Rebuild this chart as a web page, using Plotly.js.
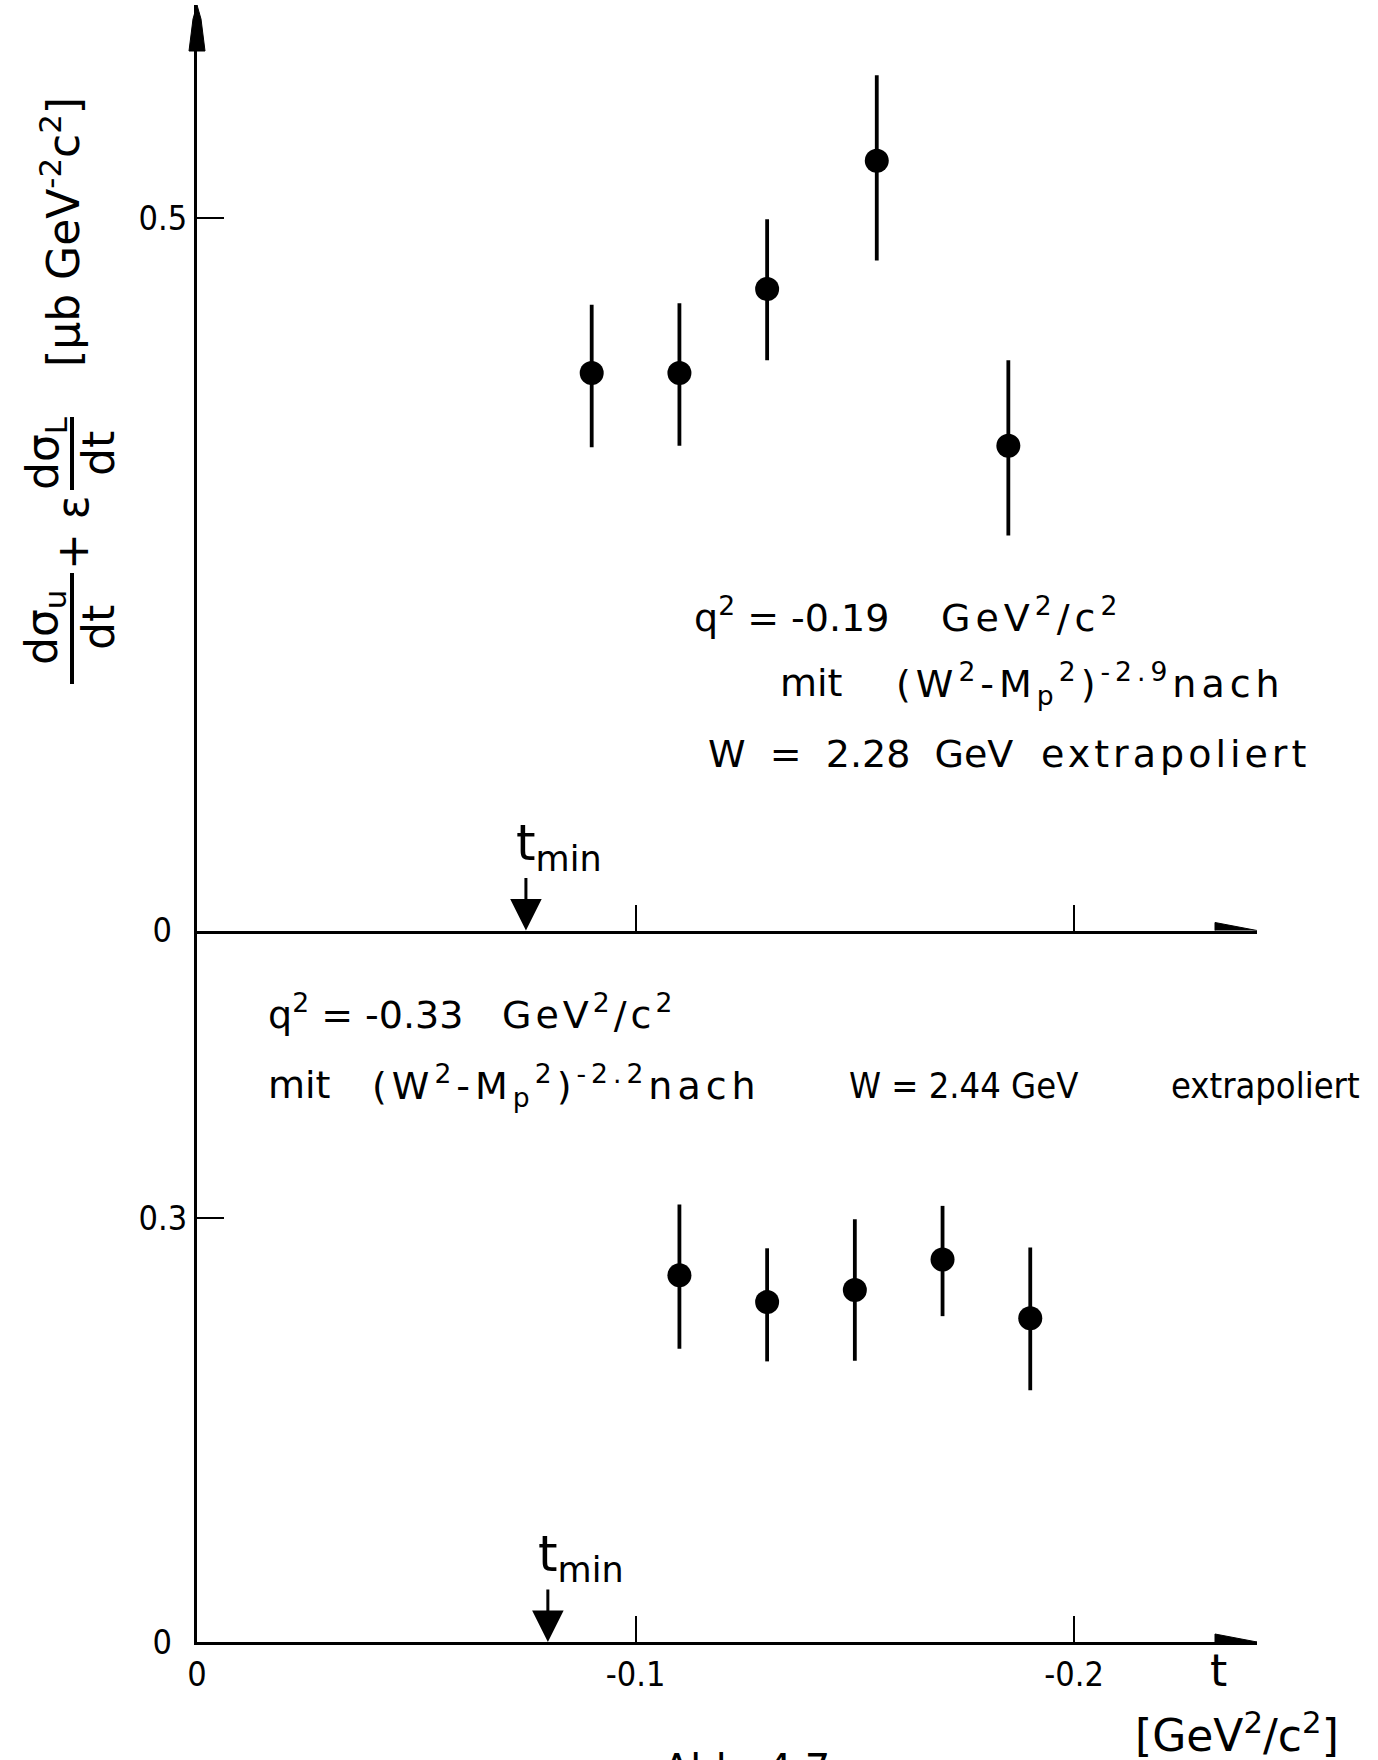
<!DOCTYPE html>
<html>
<head>
<meta charset="utf-8">
<script src="https://cdn.plot.ly/plotly-3.0.1.min.js"></script>
<style>html,body{margin:0;padding:0;background:#fff;}#chart{width:1378px;height:1760px;}</style>
</head>
<body>
<div id="chart"></div>
<script>
// ---------------- data ----------------
// upper panel: q^2 = -0.19 GeV^2/c^2
const tUpper       = [-0.09, -0.11, -0.13, -0.155, -0.185];
const sigmaUpper   = [0.391, 0.391, 0.450, 0.540, 0.340];
const errUpperPlus = [0.048, 0.049, 0.049, 0.060, 0.060];
const errUpperMinus= [0.052, 0.051, 0.050, 0.070, 0.063];
// lower panel: q^2 = -0.33 GeV^2/c^2
const tLower       = [-0.11, -0.13, -0.15, -0.17, -0.19];
const sigmaLower   = [0.2595, 0.2405, 0.249, 0.2705, 0.229];
const errLowerPlus = [0.050, 0.038, 0.050, 0.038, 0.050];
const errLowerMinus= [0.052, 0.042, 0.050, 0.040, 0.051];
// t_min markers
const tMinUpper = -0.075;
const tMinLower = -0.080;
// ticks
const xTickVals   = [0, -0.1, -0.2];
const xTickText   = ['0', '-0.1', '-0.2'];
const yUpTickVals = [0, 0.5];
const yUpTickText = ['0\u2002', '0.5'];
const yLoTickVals = [0, 0.3];
const yLoTickText = ['0\u2002', '0.3'];

// ---------------- geometry ----------------
const W = 1378, H = 1760;
const M = {l: 197, r: 121, t: 5, b: 118};
const plotW = W - M.l - M.r, plotH = H - M.t - M.b;
const fx = px => (px - M.l) / plotW;
const fy = py => (H - M.b - py) / plotH;
const splitY = 930.5;              // pixel row of the upper zero line
const dSplit = fy(splitY);
const xRange = [0, -0.2417];
const yLoRange = [0, 0.5033];
const yUpRange = [0, 0.6492];

const FONT = 'DejaVu Sans, sans-serif';
const FONTC = 'DejaVu Sans Condensed, DejaVu Sans, sans-serif';
const black = '#000';

function errTrace(x, y, plus, minus, xa, ya) {
  return {
    type: 'scatter', mode: 'markers', x: x, y: y, xaxis: xa, yaxis: ya,
    marker: {size: 24, color: black},
    error_y: {type: 'data', symmetric: false, array: plus, arrayminus: minus,
              thickness: 3.8, width: 0, color: black},
    showlegend: false, hoverinfo: 'x+y'
  };
}

const data = [
  errTrace(tUpper, sigmaUpper, errUpperPlus, errUpperMinus, 'x2', 'y2'),
  errTrace(tLower, sigmaLower, errLowerPlus, errLowerMinus, 'x', 'y')
];

const axisCommon = {
  showline: true, linecolor: black, linewidth: 3, showgrid: false, zeroline: false,
  ticks: 'inside', ticklen: 26, tickwidth: 2, tickcolor: black,
  tickfont: {family: FONTC, size: 34, color: black}, fixedrange: true
};

function txt(text, x, y, opts) {
  return Object.assign({text: text, x: x, y: y, xref: 'paper', yref: 'paper', showarrow: false,
    font: {family: FONT, size: 38, color: black}, xanchor: 'left', yanchor: 'middle'}, opts || {});
}
const sp = (ls, s) => '<span style="letter-spacing:' + ls + 'px">' + s + '</span>';
const C = {xanchor: 'center'};
const CC = {xanchor: 'center', font: {family: FONTC, size: 36, color: black}};
const ROT = {xanchor: 'center', textangle: -90, font: {family: FONT, size: 44, color: black}};

const annotations = [
  // upper panel text
  txt('q<sup>2</sup> = -0.19', fx(692), fy(615)),
  txt(sp(5, 'GeV<sup>2</sup>/c<sup>2</sup>'), fx(1031), fy(615), C),
  txt('mit', fx(778), fy(683)),
  txt(sp(5, '(W<sup>2</sup>-M<sub>p</sub><sup>2</sup>)<sup>-2.9</sup>nach'), fx(1090), fy(683), C),
  txt('W  =  2.28  GeV', fx(706), fy(754)),
  txt(sp(4, 'extrapoliert'), fx(1175), fy(754), C),
  // lower panel text
  txt('q<sup>2</sup> = -0.33', fx(266), fy(1012)),
  txt(sp(4, 'GeV<sup>2</sup>/c<sup>2</sup>'), fx(589), fy(1012), C),
  txt('mit', fx(266), fy(1085)),
  txt(sp(5, '(W<sup>2</sup>-M<sub>p</sub><sup>2</sup>)<sup>-2.2</sup>nach'), fx(566), fy(1085), C),
  txt('W = 2.44 GeV', fx(963), fy(1085), CC),
  txt('extrapoliert', fx(1265), fy(1085), CC),
  // t_min labels and arrows
  {text: 't<sub>min</sub>', x: tMinUpper, y: 0, xref: 'x2', yref: 'y2', showarrow: false,
   xanchor: 'left', yanchor: 'bottom', xshift: -12, yshift: 50, font: {family: FONT, size: 50, color: black}},
  {text: '', x: tMinUpper, y: 0, xref: 'x2', yref: 'y2', showarrow: true, ax: 0, ay: -54,
   arrowhead: 2, arrowwidth: 3, arrowsize: 2.1, arrowcolor: black},
  {text: 't<sub>min</sub>', x: tMinLower, y: 0, xref: 'x', yref: 'y', showarrow: false,
   xanchor: 'left', yanchor: 'bottom', xshift: -12, yshift: 50, font: {family: FONT, size: 50, color: black}},
  {text: '', x: tMinLower, y: 0, xref: 'x', yref: 'y', showarrow: true, ax: 0, ay: -54,
   arrowhead: 2, arrowwidth: 3, arrowsize: 2.1, arrowcolor: black},
  // x axis title
  txt('t', fx(1218), fy(1670), {xanchor: 'center', font: {family: FONT, size: 44, color: black}}),
  txt('[GeV<sup>2</sup>/c<sup>2</sup>]', fx(1237), fy(1732), {xanchor: 'center', font: {family: FONT, size: 44, color: black}}),
  // caption (cut at the bottom edge)
  txt('Abb. 4.7', fx(746), fy(1744), {xanchor: 'center', yanchor: 'top', font: {family: FONT, size: 40, color: black}}),
  // y axis title pieces (rotated)
  txt('[μb GeV<sup>-2</sup>c<sup>2</sup>]', fx(60), fy(232), ROT),
  txt('dσ<sub>L</sub>', fx(45), fy(454), ROT),
  txt('dt', fx(98), fy(454), ROT),
  txt('+ ε', fx(72), fy(533), ROT),
  txt('dσ<sub>u</sub>', fx(44), fy(628), ROT),
  txt('dt', fx(98), fy(628), ROT)
];

const shapes = [
  // fraction bars of the y title
  {type: 'line', xref: 'paper', yref: 'paper', x0: fx(72), x1: fx(72), y0: fy(417), y1: fy(490), line: {color: black, width: 4}},
  {type: 'line', xref: 'paper', yref: 'paper', x0: fx(72), x1: fx(72), y0: fy(573), y1: fy(684), line: {color: black, width: 4}},
  // arrow head on top of the y axis
  {type: 'path', xref: 'paper', yref: 'paper', xsizemode: 'pixel', ysizemode: 'pixel', xanchor: 0, yanchor: 1,
   path: 'M -8 -46 L -4 -14 L 0 0 L 4 -14 L 8 -46 Z', fillcolor: black, line: {color: black, width: 1}},
  // arrow heads at the right end of both t axes
  {type: 'path', xref: 'paper', yref: 'y', xsizemode: 'pixel', ysizemode: 'pixel', xanchor: 1, yanchor: 0,
   path: 'M -42 -8 L 0 0 L -42 8 Z', fillcolor: black, line: {color: black, width: 1}},
  {type: 'path', xref: 'paper', yref: 'y2', xsizemode: 'pixel', ysizemode: 'pixel', xanchor: 1, yanchor: 0,
   path: 'M -42 -8 L 0 0 L -42 8 Z', fillcolor: black, line: {color: black, width: 1}}
];

const layout = {
  width: W, height: H, margin: M,
  paper_bgcolor: '#fff', plot_bgcolor: '#fff',
  showlegend: false,
  xaxis: Object.assign({}, axisCommon, {domain: [0, 1], range: xRange, anchor: 'y',
    tickmode: 'array', tickvals: xTickVals, ticktext: xTickText}),
  xaxis2: Object.assign({}, axisCommon, {domain: [0, 1], range: xRange, anchor: 'y2', matches: 'x',
    tickmode: 'array', tickvals: xTickVals.slice(1), ticktext: xTickText.slice(1), showticklabels: false}),
  yaxis: Object.assign({}, axisCommon, {domain: [0, dSplit], range: yLoRange, anchor: 'x',
    tickmode: 'array', tickvals: yLoTickVals, ticktext: yLoTickText, ticklen: 27}),
  yaxis2: Object.assign({}, axisCommon, {domain: [dSplit, 1], range: yUpRange, anchor: 'x2',
    tickmode: 'array', tickvals: yUpTickVals, ticktext: yUpTickText, ticklen: 27}),
  annotations: annotations,
  shapes: shapes
};

Plotly.newPlot('chart', data, layout, {displayModeBar: false, staticPlot: true});
</script>
</body>
</html>
